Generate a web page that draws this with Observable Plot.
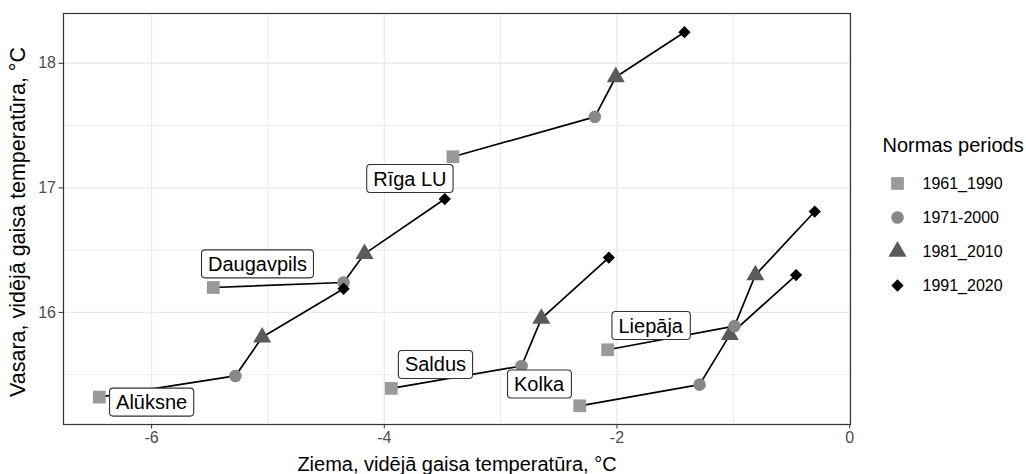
<!DOCTYPE html>
<html>
<head>
<meta charset="utf-8">
<script src="https://cdn.jsdelivr.net/npm/d3@7"></script>
<script src="https://cdn.jsdelivr.net/npm/@observablehq/plot@0.6"></script>
<style>
  html, body { margin: 0; padding: 0; background: #fff; }
  #wrap { position: relative; width: 1026px; height: 474px; font-family: "Liberation Sans", Arial, sans-serif; }
  #legend { position: absolute; left: 868px; top: 118px; }
  svg { overflow: visible; }
</style>
</head>
<body>
<div id="wrap"><div id="chart"></div><div id="legend"></div></div>
<script>
// ---- data ----
const periods = ["1961_1990", "1971-2000", "1981_2010", "1991_2020"];
const stations = ["Alūksne", "Daugavpils", "Rīga LU", "Saldus", "Kolka", "Liepāja"];
// winter (x) values per station, in period order
const winterAluksne    = [-6.45, -5.28, -5.05, -4.35];
const winterDaugavpils = [-5.47, -4.35, -4.17, -3.48];
const winterRiga       = [-3.41, -2.19, -2.01, -1.42];
const winterSaldus     = [-3.94, -2.82, -2.65, -2.07];
const winterKolka      = [-2.32, -1.29, -1.03, -0.46];
const winterLiepaja    = [-2.08, -0.99, -0.81, -0.30];
// summer (y) values per station, in period order
const summerAluksne    = [15.32, 15.49, 15.80, 16.19];
const summerDaugavpils = [16.20, 16.24, 16.47, 16.91];
const summerRiga       = [17.25, 17.57, 17.89, 18.25];
const summerSaldus     = [15.39, 15.57, 15.95, 16.44];
const summerKolka      = [15.25, 15.42, 15.82, 16.30];
const summerLiepaja    = [15.70, 15.89, 16.30, 16.81];
// label (repelled) positions in data units
const labelX = [-6.00, -5.09, -3.78, -3.56, -2.67, -1.71];
const labelY = [15.275, 16.385, 17.07, 15.577, 15.42, 15.89];
// ticks
const xTicks = [-6, -4, -2, 0];
const yTicks = [16, 17, 18];
const xMinor = [-5, -3, -1];
const yMinor = [15.5, 16.5, 17.5];

const winters = [winterAluksne, winterDaugavpils, winterRiga, winterSaldus, winterKolka, winterLiepaja];
const summers = [summerAluksne, summerDaugavpils, summerRiga, summerSaldus, summerKolka, summerLiepaja];
const rows = stations.flatMap((s, i) => periods.map((p, j) => ({station: s, period: p, x: winters[i][j], y: summers[i][j]})));
const labels = stations.map((s, i) => ({station: s, x: labelX[i], y: labelY[i]}));

const diamond = {
  draw(ctx, size) {
    const s = Math.sqrt(size / 2);
    ctx.moveTo(0, -s); ctx.lineTo(s, 0); ctx.lineTo(0, s); ctx.lineTo(-s, 0); ctx.closePath();
  }
};
const symbolScale = {domain: periods, range: ["square", "circle", "triangle", diamond]};
const colorScale = {domain: periods, range: ["#9a9a9a", "#888888", "#5a5a5a", "#000000"]};
const sizeOf = {"1961_1990": 7.2, "1971-2000": 6.3, "1981_2010": 6.7, "1991_2020": 4.9};

const font = '"Liberation Sans", Arial, sans-serif';

const chart = Plot.plot({
  width: 1026,
  height: 474,
  marginLeft: 63,
  marginRight: 176,
  marginTop: 13,
  marginBottom: 50,
  style: {fontFamily: font, background: "#fff"},
  x: {domain: [-6.7575, 0.0075]},
  y: {domain: [15.10, 18.40]},
  symbol: symbolScale,
  color: colorScale,
  r: {type: "identity"},
  marks: [
    Plot.gridX(xMinor, {stroke: "#ebebeb", strokeOpacity: 1, strokeWidth: 1}),
    Plot.gridY(yMinor, {stroke: "#ebebeb", strokeOpacity: 1, strokeWidth: 1}),
    Plot.gridX(xTicks, {stroke: "#ebebeb", strokeOpacity: 1, strokeWidth: 1.4}),
    Plot.gridY(yTicks, {stroke: "#ebebeb", strokeOpacity: 1, strokeWidth: 1.4}),
    Plot.axisX(xTicks, {tickSize: 4.5, tickPadding: 3, stroke: "#333", fill: "#4d4d4d", fontSize: 16, label: null, tickFormat: d => d === 0 ? "0" : "-" + Math.abs(d)}),
    Plot.axisY(yTicks, {tickSize: 4.5, tickPadding: 3, stroke: "#333", fill: "#4d4d4d", fontSize: 16, label: null, tickFormat: d => String(d)}),
    Plot.frame({stroke: "#333", strokeWidth: 1.2}),
    Plot.line(rows, {x: "x", y: "y", z: "station", stroke: "#000", strokeWidth: 1.7}),
    Plot.dot(rows, {x: "x", y: "y", symbol: "period", fill: "period", r: d => sizeOf[d.period], stroke: "none"}),
    Plot.text(labels, {x: "x", y: "y", text: "station", fontSize: 20, fill: "#000", className: "lbl", lineAnchor: "middle"}),
    Plot.text(["Ziema, vidējā gaisa temperatūra, °C"], {frameAnchor: "bottom", dy: 40, text: d => d, fontSize: 20, fill: "#000", textAnchor: "middle", lineAnchor: "middle"}),
    Plot.text(["Vasara, vidējā gaisa temperatūra, °C"], {frameAnchor: "left", dx: -45, dy: 3, rotate: -90, text: d => d, fontSize: 21.5, fill: "#000", textAnchor: "middle", lineAnchor: "middle"})
  ]
});
document.getElementById("chart").appendChild(chart);

// boxes behind repel labels
d3.select(chart).selectAll("g.lbl text").each(function() {
  const b = this.getBBox();
  const padX = 6.5, padY = 3.5;
  const t = this.getAttribute("transform");
  d3.select(this.parentNode).insert("rect", () => this)
    .attr("transform", t)
    .attr("x", b.x - padX).attr("y", b.y - padY + 0.5)
    .attr("width", b.width + 2 * padX).attr("height", b.height + 2 * padY - 1)
    .attr("rx", 3.5).attr("ry", 3.5)
    .attr("fill", "#fff").attr("stroke", "#333").attr("stroke-width", 1.1);
});

const legend = Plot.plot({
  width: 158,
  height: 190,
  margin: 0,
  style: {fontFamily: font, background: "transparent"},
  y: {type: "point", domain: periods, range: [65, 167], padding: 0, axis: null},
  symbol: symbolScale,
  color: colorScale,
  r: {type: "identity"},
  marks: [
    Plot.text(["Normas periods"], {frameAnchor: "top-left", dx: 14, dy: 27, text: d => d, fontSize: 20, fill: "#000", textAnchor: "start", lineAnchor: "middle"}),
    Plot.dot(periods, {y: d => d, frameAnchor: "left", dx: 29, symbol: d => d, fill: d => d, r: d => sizeOf[d]}),
    Plot.text(periods, {y: d => d, frameAnchor: "left", dx: 54, text: d => d, fontSize: 16, fill: "#000", textAnchor: "start", lineAnchor: "middle"})
  ]
});
document.getElementById("legend").appendChild(legend);
</script>
</body>
</html>
